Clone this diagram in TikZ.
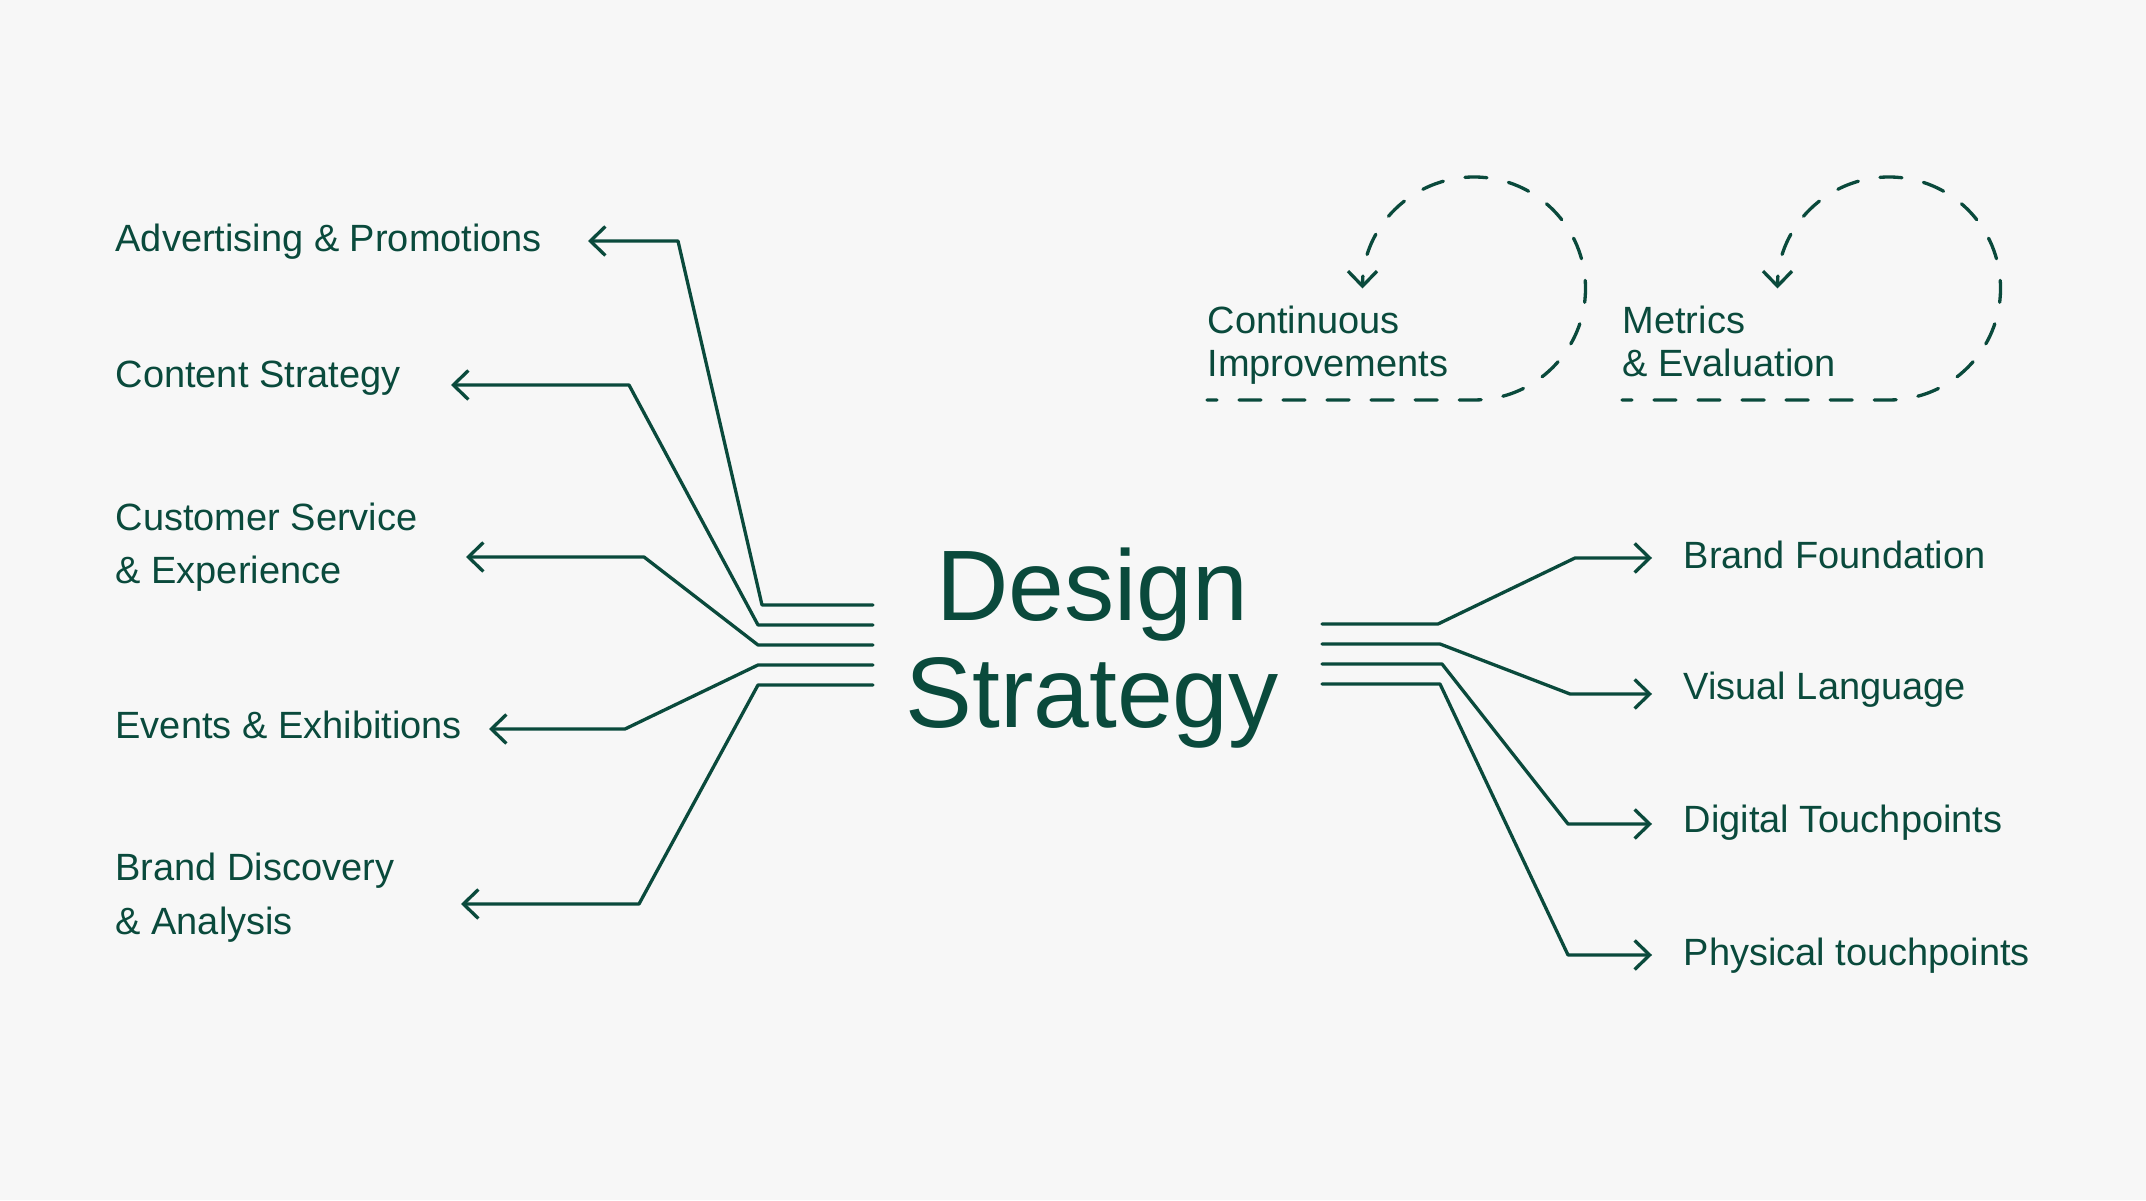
\documentclass[tikz,border=0pt]{standalone}
\usepackage{fontspec}
\setmainfont{Liberation Sans}
\usetikzlibrary{arrows.meta}
\definecolor{pine}{RGB}{10,74,60}
\definecolor{paper}{RGB}{247,247,247}
\tikzset{
	lbl/.style={anchor=base west,inner sep=0pt,align=left,font=\fontsize{10.8}{15.1}\selectfont},
	looplbl/.style={lbl,font=\fontsize{10.8}{12.5}\selectfont},
	looped/.style={dash pattern=on 0.22cm off 0.22cm,dash phase=0.12cm}
}
\begin{document}
\begin{tikzpicture}[>={Straight Barb[length=0.15cm,width=0.29cm]},line join=round,line cap=round,x=0.01cm,y=0.01cm,color=pine,line width=0.033cm]
		\fill[paper] (0,0) rectangle (2146,1200);
		\useasboundingbox (0,0) rectangle (2146,1200);
		
		\node[inner sep=0pt,align=center,font=\fontsize{28.5}{30.4}\selectfont] (ds) at (1092,552) {Design\\Strategy};
		
		\node[lbl] (adv) at (114,948) {Advertising \& Promotions};
		\node[lbl] (cont) at (114,812) {Content Strategy};
		\node[lbl] (cust) at (114,616) {Customer Service\\\& Experience};
		\node[lbl] (ev) at (114,461) {Events \& Exhibitions};
		\node[lbl] (disc) at (114,266) {Brand Discovery\\\& Analysis};
		\node[lbl] (found) at (1682,631) {Brand Foundation};
		\node[lbl] (vis) at (1682,500) {Visual Language};
		\node[lbl] (dig) at (1682,367) {Digital Touchpoints};
		\node[lbl] (phys) at (1682,235) {Physical touchpoints};
		\node[looplbl] (ci) at (1206,823) {Continuous\\Improvements};
		\node[looplbl] (me) at (1621,823) {Metrics\\\& Evaluation};
		
		\coordinate (adv-t) at (588,959);
		\coordinate (cont-t) at (451,815);
		\coordinate (cust-t) at (466,643);
		\coordinate (ev-t) at (489,471);
		\coordinate (disc-t) at (461,296);
		\coordinate (found-t) at (1652,642);
		\coordinate (vis-t) at (1652,506);
		\coordinate (dig-t) at (1652,376);
		\coordinate (phys-t) at (1652,245);
		
		\draw[->] (873,595)--(762,595)--(678,959)--(adv-t);
		\draw[->] (873,575)--(758,575)--(629,815)--(cont-t);
		\draw[->] (873,555)--(758,555)--(644,643)--(cust-t);
		\draw[->] (873,535)--(758,535)--(625,471)--(ev-t);
		\draw[->] (873,515)--(758,515)--(639,296)--(disc-t);
		
		\draw[->] (1322,576)--(1438,576)--(1575,642)--(found-t);
		\draw[->] (1322,556)--(1440,556)--(1570,506)--(vis-t);
		\draw[->] (1322,536)--(1442,536)--(1568,376)--(dig-t);
		\draw[->] (1322,516)--(1440,516)--(1568,245)--(phys-t);
		
		\draw[looped,->] (1207,800)--(1474,800) arc[start angle=-90,end angle=180,radius=111.5];
		\draw[looped,->] (1622,800)--(1889,800) arc[start angle=-90,end angle=180,radius=111.5];
\end{tikzpicture}
\end{document}
